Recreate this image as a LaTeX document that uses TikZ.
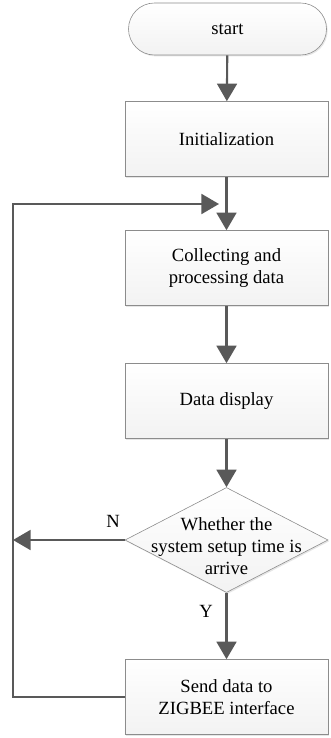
\documentclass[tikz,border=0pt]{standalone}
\usepackage{fontspec}
\setmainfont{Liberation Serif}
\usetikzlibrary{arrows.meta,shapes.geometric,shadows}

\tikzset{
  bloco/.style={draw=black!45, line width=0.5pt, top color=white, bottom color=black!5,
    minimum width=6.09cm, minimum height=2.25cm, align=center,
    font=\fontsize{15.9}{18.6}\selectfont,
    drop shadow={shadow xshift=1pt, shadow yshift=-1.2pt, opacity=0.2}},
  decisao/.style={bloco, diamond, inner sep=0pt, minimum width=6.09cm, minimum height=3.15cm},
  seta/.style={draw=black!65, line width=1.8pt, -{Triangle[length=15pt,width=17pt]}},
  rotulo/.style={font=\fontsize{15.9}{18.6}\selectfont}
}

\begin{document}
\begin{tikzpicture}[x=0.03cm, y=-0.03cm]
\useasboundingbox (0,0) rectangle (330,738);

% blocos
	\node[bloco, rounded corners=0.78cm, minimum width=5.94cm, minimum height=1.56cm] (start) at (227.5,29) {start};
	\node[bloco] (init) at (226.5,139) {Initialization};
	\node[bloco] (coleta) at (226.5,268) {Collecting and\\processing data};
	\node[bloco] (exibe) at (226.5,401) {Data display};
	\node[decisao, label={[rotulo, align=center, yshift=-0.18cm]center:Whether the\\system setup time is\\arrive}] (dec) at (226.5,540) {};
	\node[bloco] (envia) at (226.5,697) {Send data to\\ZIGBEE interface};

% rotulos
	\node[rotulo] (nlab) at (113,521) {N};
	\node[rotulo] (ylab) at (206,611) {Y};

% setas principais
	\draw[seta] (start) -- (init);
	\draw[seta] (init) -- (coleta);
	\draw[seta] (coleta) -- (exibe);
	\draw[seta] (exibe) -- (dec.north);
	\draw[seta] (dec.south) -- (envia);

% laco de retorno
	\coordinate (baixo) at (13,697);
	\coordinate (cima) at (13,204);
	\coordinate (entrada) at (219,204);
	\coordinate (nfim) at (13,540);
	\draw[seta] (envia.west) -- (baixo) -- (cima) -- (entrada);
	\draw[seta] (dec.west) -- (nfim);

\end{tikzpicture}
\end{document}
